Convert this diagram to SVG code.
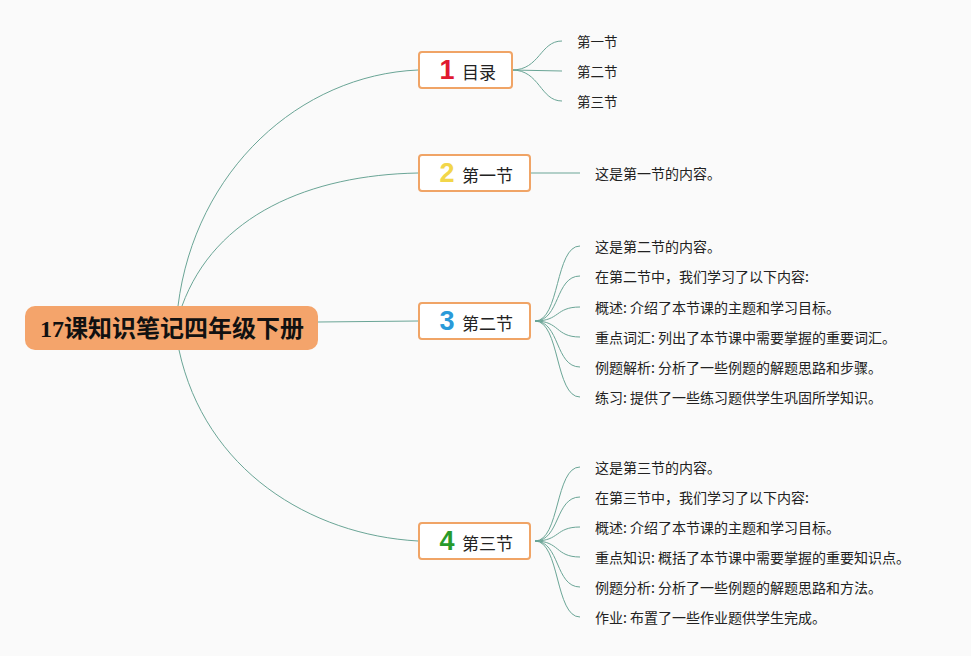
<svg xmlns="http://www.w3.org/2000/svg" width="971" height="656" viewBox="0 0 971 656">
<style>
.conn path{fill:none;stroke:#6aa596;stroke-width:1}
.box{fill:#ffffff;stroke:#f0a466;stroke-width:2}
.num{font-family:"Liberation Sans","DejaVu Sans",sans-serif;font-weight:bold;font-size:27px;text-anchor:middle;dominant-baseline:central}
.lbl{font-family:"Noto Sans CJK SC",sans-serif;font-size:17px;fill:#222;dominant-baseline:central}
.leaf{font-family:"Noto Sans CJK SC",sans-serif;font-size:14px;fill:#222;dominant-baseline:central}
.leafs{font-family:"Noto Sans CJK SC",sans-serif;font-size:13.5px;fill:#222;dominant-baseline:central}
</style>
<rect x="0" y="0" width="971" height="656" fill="#fafafa"/>
<g class="conn" id="connectors">
<path d="M178,306 C195,170 300,75 418,70"/>
<path d="M182,306 C215,215 310,175 418,173"/>
<path d="M318,322 L418,321"/>
<path d="M179,350 C205,470 310,535 418,541"/>
<path d="M512,70 C540,70 540,41 562,41"/>
<path d="M512,70 L562,71"/>
<path d="M512,70 C540,70 540,101 562,101"/>
<path d="M530,173 L580,173"/>
<path d="M535,321 C560,321 555,246 580,246"/>
<path d="M535,321 C560,321 555,276 580,276"/>
<path d="M535,321 C560,321 555,307 580,307"/>
<path d="M535,321 C560,321 555,337 580,337"/>
<path d="M535,321 C560,321 555,367 580,367"/>
<path d="M535,321 C560,321 555,397 580,397"/>
<path d="M535,541 C560,541 555,467 580,467"/>
<path d="M535,541 C560,541 555,497 580,497"/>
<path d="M535,541 C560,541 555,527 580,527"/>
<path d="M535,541 C560,541 555,557 580,557"/>
<path d="M535,541 C560,541 555,587 580,587"/>
<path d="M535,541 C560,541 555,617 580,617"/>
</g>
<g id="root">
<rect x="25" y="306" width="293" height="44" rx="10" fill="#f4a46b"/>
<text x="172" y="329" text-anchor="middle" dominant-baseline="central" font-family="'Liberation Serif','Noto Sans CJK SC',serif" font-weight="bold" font-size="24" fill="#111">17课知识笔记四年级下册</text>
</g>
<g id="n1">
<rect class="box" x="419" y="52" width="93" height="36" rx="3"/>
<text class="num" x="447" y="70" fill="#e0192f">1</text>
<text class="lbl" x="462" y="71">目录</text>
</g>
<g id="n2">
<rect class="box" x="419" y="155" width="111" height="36" rx="3"/>
<text class="num" x="447" y="173" fill="#f2d64a">2</text>
<text class="lbl" x="462" y="174">第一节</text>
</g>
<g id="n3">
<rect class="box" x="419" y="303" width="111" height="36" rx="3"/>
<text class="num" x="447" y="321" fill="#2a9ad9">3</text>
<text class="lbl" x="462" y="322">第二节</text>
</g>
<g id="n4">
<rect class="box" x="419" y="523" width="111" height="36" rx="3"/>
<text class="num" x="447" y="541" fill="#279a2b">4</text>
<text class="lbl" x="462" y="542">第三节</text>
</g>
<g id="leaves1">
<text class="leafs" x="577" y="41">第一节</text>
<text class="leafs" x="577" y="71">第二节</text>
<text class="leafs" x="577" y="101">第三节</text>
</g>
<g id="leaves2">
<text class="leaf" x="595" y="173">这是第一节的内容。</text>
</g>
<g id="leaves3">
<text class="leaf" x="595" y="246">这是第二节的内容。</text>
<text class="leaf" x="595" y="276">在第二节中，我们学习了以下内容:</text>
<text class="leaf" x="595" y="307">概述: 介绍了本节课的主题和学习目标。</text>
<text class="leaf" x="595" y="337">重点词汇: 列出了本节课中需要掌握的重要词汇。</text>
<text class="leaf" x="595" y="367">例题解析: 分析了一些例题的解题思路和步骤。</text>
<text class="leaf" x="595" y="397">练习: 提供了一些练习题供学生巩固所学知识。</text>
</g>
<g id="leaves4">
<text class="leaf" x="595" y="467">这是第三节的内容。</text>
<text class="leaf" x="595" y="497">在第三节中，我们学习了以下内容:</text>
<text class="leaf" x="595" y="527">概述: 介绍了本节课的主题和学习目标。</text>
<text class="leaf" x="595" y="557">重点知识: 概括了本节课中需要掌握的重要知识点。</text>
<text class="leaf" x="595" y="587">例题分析: 分析了一些例题的解题思路和方法。</text>
<text class="leaf" x="595" y="617">作业: 布置了一些作业题供学生完成。</text>
</g>
</svg>
